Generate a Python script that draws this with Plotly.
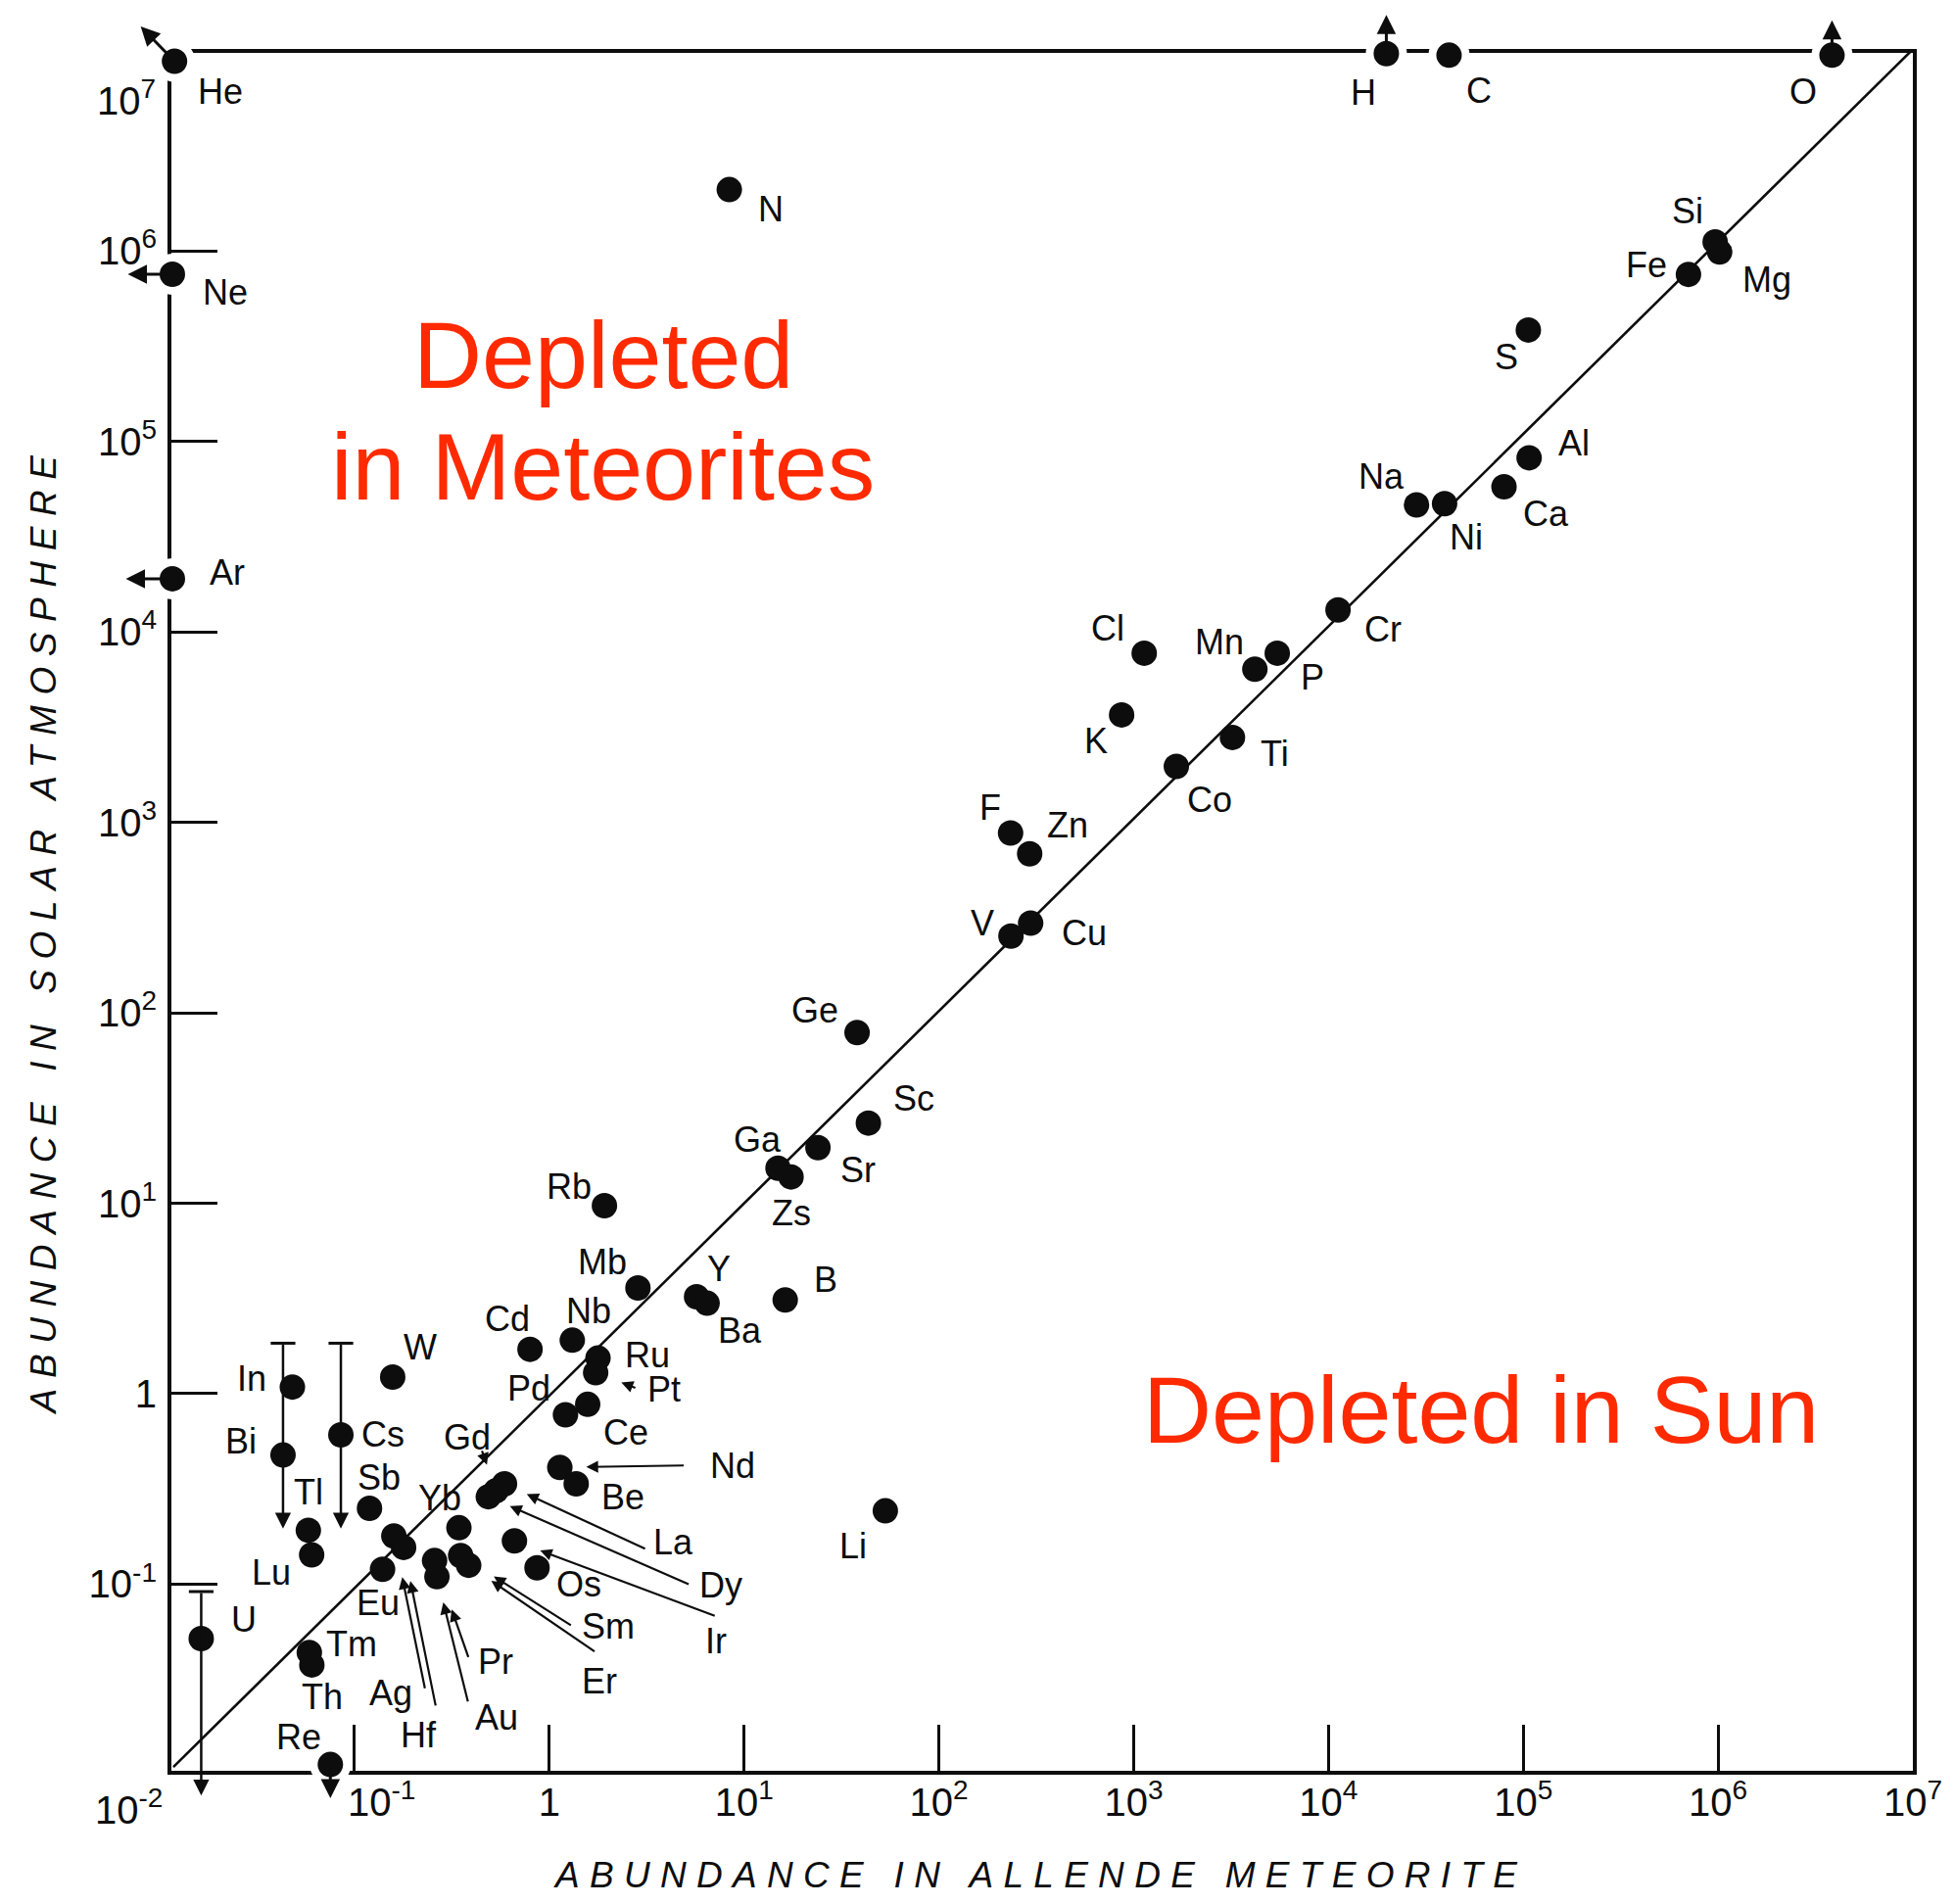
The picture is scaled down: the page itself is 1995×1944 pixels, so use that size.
import numpy as np
import plotly.graph_objects as go

# ---------------- data (log10 abundances) ----------------
# elements sitting on the frame (lower limits / off-scale)
edge_elements = ["He", "H", "C", "O", "Ne", "Ar", "Re"]
edge_meteorite_log10 = [-1.924, 4.297, 4.619, 6.585, -1.935, -1.935, -1.124]
edge_sun_log10 = [6.996, 7.036, 7.028, 7.028, 5.878, 4.279, -1.947]

elements = ["N", "Si", "Mg", "Fe", "S", "Al", "Ca", "Na", "Ni", "Cr",
            "Cl", "Mn", "P", "K", "Ti", "Co", "F", "Zn", "V", "Cu",
            "Ge", "Sc", "Sr", "Ga", "Zs", "Rb", "Mb", "Y", "Ba", "B", "Li",
            "Cd", "Nb", "Ru", "Pt", "W", "In", "Bi", "Cs",
            "Pd", "Ce", "Nd", "Be", "Gd", "La", "Dy",
            "Sb", "Tl", "Lu", "Yb", "Ag", "Hf", "Eu", "Pr", "Au",
            "Sm", "Er", "Ir", "Os", "U", "Tm", "Th"]
meteorite_log10 = [0.924, 5.985, 6.008, 5.848, 5.026, 5.030, 4.901, 4.452, 4.596, 4.049,
                   3.054, 3.622, 3.737, 2.938, 3.507, 3.219, 2.368, 2.466, 2.370, 2.471,
                   1.580, 1.638, 1.379, 1.174, 1.241, 0.283, 0.455, 0.756, 0.810, 1.211, 1.725,
                   -0.099, 0.118, 0.250, 0.238, -0.804, -1.319, -1.367, -1.070,
                   0.083, 0.197, 0.054, 0.138, -0.273, -0.230, -0.313,
                   -0.923, -1.237, -1.220, -0.464, -0.798, -0.748, -0.856, -0.589, -0.577,
                   -0.455, -0.414, -0.179, -0.063, -1.787, -1.232, -1.219]
sun_log10 = [6.322, 6.048, 5.995, 5.877, 5.585, 4.914, 4.762, 4.667, 4.673, 4.115,
             3.888, 3.804, 3.888, 3.564, 3.446, 3.294, 2.944, 2.835, 2.403, 2.471,
             1.896, 1.421, 1.292, 1.184, 1.138, 0.987, 0.555, 0.509, 0.475, 0.492, -0.615,
             0.233, 0.281, 0.187, 0.110, 0.087, 0.035, -0.322, -0.216,
             -0.111, -0.056, -0.387, -0.473, -0.509, -0.473, -0.541,
             -0.602, -0.717, -0.846, -0.704, -0.747, -0.807, -0.922, -0.876, -0.961,
             -0.850, -0.901, -0.773, -0.914, -1.286, -1.359, -1.424]

# upper-limit bars (cap at top, arrow down)
limit_elements = ["Bi", "Cs", "U"]
limit_top_log10 = [0.265, 0.265, -1.039]
limit_tip_log10 = [-0.708, -0.708, -2.11]

# equal-abundance line
diag_x_log10 = [-1.93, 7.10]
diag_y_log10 = [-1.96, 7.16]

x_tick_exp = [-1, 0, 1, 2, 3, 4, 5, 6, 7]
y_tick_exp = [-1, 0, 1, 2, 3, 4, 5, 6]


def pow_label(k):
    return "1" if k == 0 else "10<sup>%d</sup>" % k


# the printed 10^-1 label sits just right of its tick
x_tick_text = [("&nbsp;" * 5 + pow_label(k)) if k == -1 else pow_label(k) for k in x_tick_exp]
y_tick_text = [pow_label(k) for k in y_tick_exp]

# ---------------- styling (pixel offsets of labels / pointers) ----------------
label_offset = {
    "He": (47, 31), "H": (-23, 40), "C": (31, 36), "O": (-29, 37), "N": (42, 20),
    "Ne": (54, 19), "Ar": (56, -6), "Re": (-32, -28),
    "Si": (-28, -31), "Mg": (48, 28), "Fe": (-43, -10), "S": (-22, 28), "Al": (46, -15),
    "Ca": (43, 28), "Na": (-36, -29), "Ni": (22, 34), "Cr": (46, 20), "Cl": (-37, -25),
    "Mn": (-36, -28), "P": (36, 25), "K": (-26, 27), "Ti": (43, 17), "Co": (34, 34),
    "F": (-21, -26), "Zn": (39, -29), "V": (-29, -13), "Cu": (55, 10),
    "Ge": (-43, -23), "Sc": (46, -25), "Sr": (41, 23), "Ga": (-21, -29), "Zs": (0, 37),
    "Rb": (-36, -20), "Mb": (-36, -27), "Y": (23, -29), "Ba": (34, 28), "B": (41, -21),
    "Li": (-33, 36), "Cd": (-23, -31), "Nb": (17, -30), "Ru": (50, -3), "Pt": (70, 17),
    "W": (28, -31), "In": (-42, -9), "Bi": (-43, -14), "Cs": (43, 0), "Pd": (-37, -27),
    "Ce": (39, 29), "Nd": (176, -2), "Be": (48, 14), "Gd": (-30, -54), "La": (172, 60),
    "Dy": (237, 90), "Sb": (10, -32), "Tl": (0, -39), "Lu": (-41, 18), "Yb": (-20, -30),
    "Ag": (-3, 160), "Hf": (15, 192), "Eu": (-5, 34), "Pr": (62, 103), "Au": (61, 144),
    "Sm": (151, 72), "Er": (134, 118), "Ir": (206, 102), "Os": (43, 17), "U": (44, -20),
    "Tm": (43, -9), "Th": (11, 33),
}
# pointer arrows: tail offset (px) and standoff from the dot
pointer = {
    "Ag": (32, 157, 43), "Hf": (33, 163, 35), "Pr": (35, 100, 53), "Au": (32, 129, 27),
    "Sm": (114, 72, 40), "Er": (130, 89, 28), "La": (145, 67, 25), "Dy": (206, 90, 24),
    "Ir": (206, 77, 28), "Nd": (128, -2, 27), "Gd": (-15, -42, 28), "Pt": (42, 16, 28),
}
# limit arrows of the frame elements (tip offset px)
edge_arrow = {"He": (-36, -37), "H": (0, -41), "O": (0, -37), "Ne": (-47, 0),
              "Ar": (-49, 0), "Re": (0, 36)}

INK = "#0d0d0d"
RED = "#ff2a00"
FONT = "Liberation Sans"
label_font = dict(family=FONT, size=36, color=INK)

fig = go.Figure()

# equality line
fig.add_trace(go.Scatter(
    x=10 ** np.array(diag_x_log10), y=10 ** np.array(diag_y_log10),
    mode="lines", line=dict(color=INK, width=2.6), hoverinfo="skip", showlegend=False))

# regular points
fig.add_trace(go.Scatter(
    x=10 ** np.array(meteorite_log10), y=10 ** np.array(sun_log10),
    mode="markers", marker=dict(size=26, color=INK, line=dict(width=0)),
    text=elements, cliponaxis=False, showlegend=False))

# frame points: white ring cuts the frame line
fig.add_trace(go.Scatter(
    x=10 ** np.array(edge_meteorite_log10), y=10 ** np.array(edge_sun_log10),
    mode="markers", marker=dict(size=34, color=INK, line=dict(width=8, color="white")),
    text=edge_elements, cliponaxis=False, showlegend=False))

# caps of upper-limit bars
lim_x = [meteorite_log10[elements.index(e)] for e in limit_elements]
fig.add_trace(go.Scatter(
    x=10 ** np.array(lim_x), y=10 ** np.array(limit_top_log10),
    mode="markers", marker=dict(symbol="line-ew", size=18, line=dict(width=3, color=INK)),
    cliponaxis=False, showlegend=False))

# limit bars (arrow down)
for lx, top, tip in zip(lim_x, limit_top_log10, limit_tip_log10):
    fig.add_annotation(x=lx, y=tip, ax=lx, ay=top, xref="x", yref="y", axref="x", ayref="y",
                       text="", showarrow=True, arrowhead=2, arrowsize=1.3, arrowwidth=2.5,
                       arrowcolor=INK)

# frame-element arrows
for name, lx, ly in zip(edge_elements, edge_meteorite_log10, edge_sun_log10):
    if name in edge_arrow:
        dx, dy = edge_arrow[name]
        fig.add_annotation(x=lx, y=ly, ax=dx, ay=dy, text="", showarrow=True,
                           arrowside="start", startarrowhead=2, startarrowsize=1.3,
                           arrowwidth=3, arrowcolor=INK)

# labels
all_names = edge_elements + elements
all_lx = edge_meteorite_log10 + meteorite_log10
all_ly = edge_sun_log10 + sun_log10
for name, lx, ly in zip(all_names, all_lx, all_ly):
    dx, dy = label_offset[name]
    fig.add_annotation(x=lx, y=ly, text=name, showarrow=False, xshift=dx, yshift=-dy,
                       font=label_font, xanchor="center", yanchor="middle")
    if name in pointer:
        tdx, tdy, so = pointer[name]
        fig.add_annotation(x=lx, y=ly, ax=tdx, ay=tdy, text="", showarrow=True,
                           arrowhead=2, arrowsize=1.1, arrowwidth=2.2, standoff=so,
                           arrowcolor=INK)

# corner tick labels of the y axis
for txt, py, px in [("10<sup>7</sup>", 0.9738, -0.0258), ("10<sup>-2</sup>", -0.0211, -0.0247)]:
    fig.add_annotation(x=px, y=py, xref="paper", yref="paper", text=txt, showarrow=False,
                       font=dict(family=FONT, size=40, color=INK), xanchor="center",
                       yanchor="middle")

# axis titles
spaced = '<span style="letter-spacing:%spx">%s</span>'
fig.add_annotation(x=0.4987, y=-0.061, xref="paper", yref="paper",
                   text=spaced % (10.3, "ABUNDANCE IN ALLENDE METEORITE"), showarrow=False,
                   font=dict(family=FONT, size=37, color=INK, style="italic"),
                   xanchor="center", yanchor="middle")
fig.add_annotation(x=-0.0735, y=0.4897, xref="paper", yref="paper",
                   text=spaced % (10.6, "ABUNDANCE IN SOLAR ATMOSPHERE"), showarrow=False,
                   textangle=-90,
                   font=dict(family=FONT, size=37, color=INK, style="italic"),
                   xanchor="center", yanchor="middle")

# red region notes
red_font = dict(family=FONT, size=97, color=RED)
fig.add_annotation(x=0.248, y=0.824, xref="paper", yref="paper", text="Depleted",
                   showarrow=False, font=red_font, xanchor="center", yanchor="middle")
fig.add_annotation(x=0.248, y=0.759, xref="paper", yref="paper", text="in Meteorites",
                   showarrow=False, font=red_font, xanchor="center", yanchor="middle")
fig.add_annotation(x=0.752, y=0.210, xref="paper", yref="paper", text="Depleted in Sun",
                   showarrow=False, font=red_font, xanchor="center", yanchor="middle")

axis_common = dict(type="log", ticks="inside", ticklen=47, tickwidth=2.5, tickcolor=INK,
                   showline=True, linewidth=4, linecolor=INK, mirror=True,
                   showgrid=False, zeroline=False, layer="below traces",
                   ticklabeloverflow="allow",
                   tickfont=dict(family=FONT, size=40, color=INK))
fig.update_xaxes(range=[-1.94, 7.0], tickvals=[10.0 ** k for k in x_tick_exp],
                 ticktext=x_tick_text, ticklabelstandoff=-6, **axis_common)
fig.update_yaxes(range=[-1.98, 7.04], tickvals=[10.0 ** k for k in y_tick_exp],
                 ticktext=y_tick_text, ticklabelstandoff=3, **axis_common)

# the page body adds an 8 px margin, so the figure is shifted by 8 px
fig.update_layout(width=1987, height=1936,
                  margin=dict(l=167, r=38, t=46, b=136, pad=0),
                  paper_bgcolor="white", plot_bgcolor="white",
                  showlegend=False, font=dict(family=FONT, color=INK))

fig.write_html("out.html")
